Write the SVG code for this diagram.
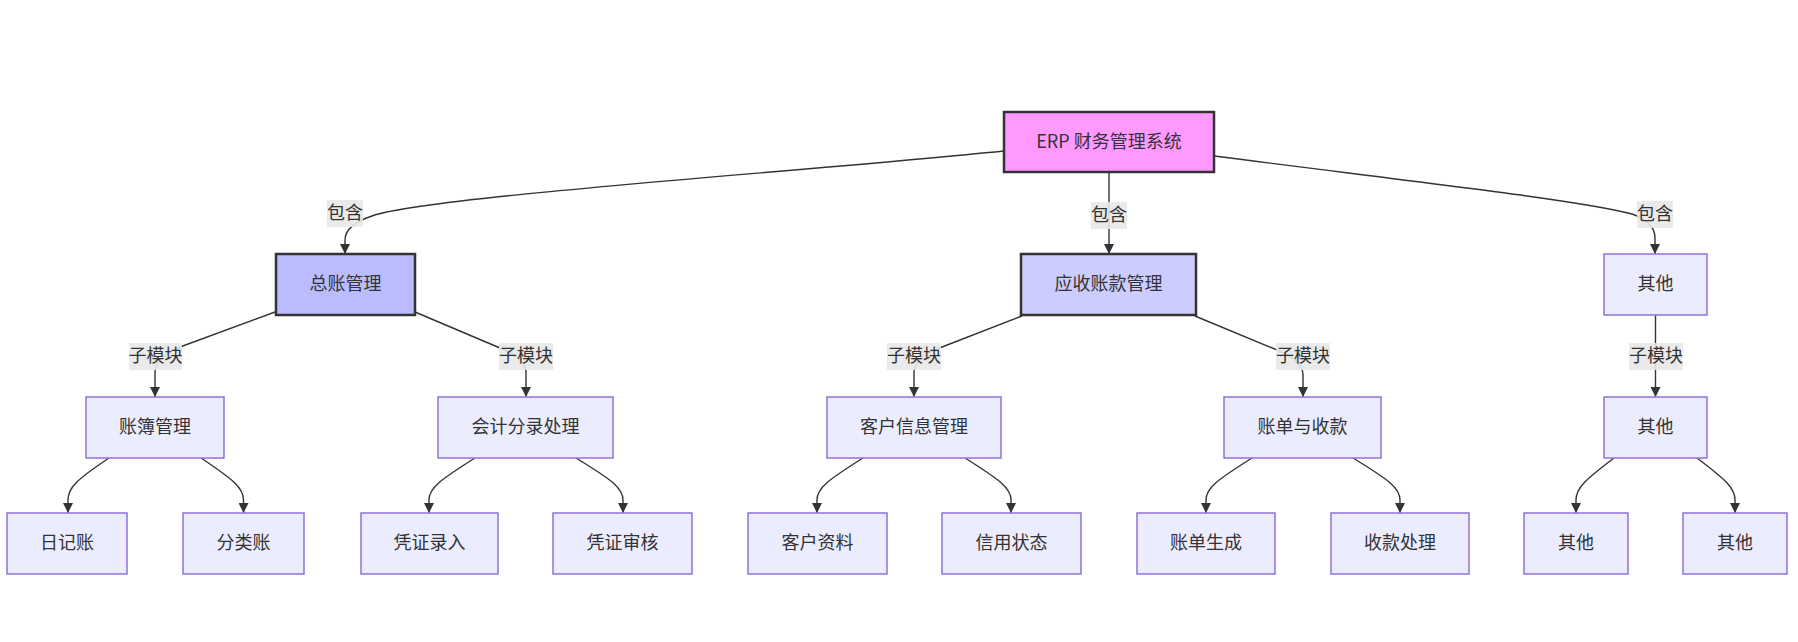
<svg xmlns="http://www.w3.org/2000/svg" width="1798" height="642" viewBox="0 0 1798 642">
<style>
  .bg{fill:#ffffff}
  .n rect{fill:#ECECFF;stroke:#9370DB;stroke-width:1.5}
  .n text, .lbl text{font-family:"Noto Sans CJK SC","Noto Sans",sans-serif;font-size:18px;fill:#333;text-anchor:middle;dominant-baseline:central}
  #root rect{fill:#ff99ff;stroke:#333;stroke-width:2.5}
  #gl rect{fill:#bbbbff;stroke:#333;stroke-width:2.5}
  #ar rect{fill:#ccccff;stroke:#333;stroke-width:2.5}
  .e{fill:none;stroke:#333;stroke-width:1.4;marker-end:url(#arr)}
  .lbl rect{fill:#e8e8e8;opacity:0.9}
</style>
<defs>
  <marker id="arr" viewBox="0 0 10 10" refX="10" refY="5" markerUnits="userSpaceOnUse" markerWidth="10" markerHeight="10" orient="auto">
    <path d="M0,0 L10,5 L0,10 z" fill="#333"/>
  </marker>
</defs>
<rect class="bg" x="0" y="0" width="1798" height="642"/>

<g id="connectors">
  <path class="e" d="M1004,151 C800,172 430,196 372,216 Q345,225 345,240 L345,254"/>
  <path class="e" d="M1109,172 L1109,254"/>
  <path class="e" d="M1214,156 C1400,180 1580,200 1632,214 Q1655,222 1655,238 L1655,254"/>
  <path class="e" d="M275,312 L180,347 Q156,357 155,372 L155,397"/>
  <path class="e" d="M415,312 L500,348 Q525,358 526,372 L526,397"/>
  <path class="e" d="M1022,316 L942,347 Q915,357 914,372 L914,397"/>
  <path class="e" d="M1195,316 L1277,350 Q1302,360 1303,374 L1303,397"/>
  <path class="e" d="M1655.5,315 L1655.5,397"/>
  <path class="e" d="M109,458 C76,480 68,488 68,500 L68,513"/>
  <path class="e" d="M201,458 C234,480 243.5,488 243.5,500 L243.5,513"/>
  <path class="e" d="M475,458 C440,480 429,488 429,500 L429,513"/>
  <path class="e" d="M576,458 C612,480 623,488 623,500 L623,513"/>
  <path class="e" d="M863,458 C828,480 817,488 817,500 L817,513"/>
  <path class="e" d="M965,458 C1000,480 1011,488 1011,500 L1011,513"/>
  <path class="e" d="M1252,458 C1217,480 1206,488 1206,500 L1206,513"/>
  <path class="e" d="M1353,458 C1389,480 1400,488 1400,500 L1400,513"/>
  <path class="e" d="M1614,458 C1585,480 1576,488 1576,500 L1576,513"/>
  <path class="e" d="M1697,458 C1726,480 1735,488 1735,500 L1735,513"/>
</g>

<g id="edge-labels">
  <g class="lbl"><rect x="327" y="200" width="36" height="27"/><text x="345" y="211">包含</text></g>
  <g class="lbl"><rect x="1091" y="202" width="36" height="27"/><text x="1109" y="213">包含</text></g>
  <g class="lbl"><rect x="1637" y="201" width="36" height="27"/><text x="1655" y="212">包含</text></g>
  <g class="lbl"><rect x="129" y="343" width="53" height="27"/><text x="155.5" y="354">子模块</text></g>
  <g class="lbl"><rect x="499" y="343" width="54" height="27"/><text x="526" y="354">子模块</text></g>
  <g class="lbl"><rect x="887" y="343" width="54" height="27"/><text x="914" y="354">子模块</text></g>
  <g class="lbl"><rect x="1276" y="343" width="54" height="27"/><text x="1303" y="354">子模块</text></g>
  <g class="lbl"><rect x="1629" y="343" width="54" height="27"/><text x="1656" y="354">子模块</text></g>
</g>

<g id="root" class="n"><rect x="1004" y="112" width="210" height="60"/><text x="1109" y="139.5">ERP 财务管理系统</text></g>
<g id="gl" class="n"><rect x="276" y="254" width="139" height="61"/><text x="345.5" y="282">总账管理</text></g>
<g id="ar" class="n"><rect x="1021" y="254" width="175" height="61"/><text x="1108.5" y="282">应收账款管理</text></g>
<g id="other" class="n"><rect x="1604" y="254" width="103" height="61"/><text x="1655.5" y="282">其他</text></g>

<g id="ledger" class="n"><rect x="86" y="397" width="138" height="61"/><text x="155" y="425">账簿管理</text></g>
<g id="entry" class="n"><rect x="438" y="397" width="175" height="61"/><text x="525.5" y="425">会计分录处理</text></g>
<g id="cust" class="n"><rect x="827" y="397" width="174" height="61"/><text x="914" y="425">客户信息管理</text></g>
<g id="bill" class="n"><rect x="1224" y="397" width="157" height="61"/><text x="1302.5" y="425">账单与收款</text></g>
<g id="other2" class="n"><rect x="1604" y="397" width="103" height="61"/><text x="1655.5" y="425">其他</text></g>

<g id="journal" class="n"><rect x="7" y="513" width="120" height="61"/><text x="67" y="541">日记账</text></g>
<g id="general" class="n"><rect x="183" y="513" width="121" height="61"/><text x="243.5" y="541">分类账</text></g>
<g id="vin" class="n"><rect x="361" y="513" width="137" height="61"/><text x="429.5" y="541">凭证录入</text></g>
<g id="vaudit" class="n"><rect x="553" y="513" width="139" height="61"/><text x="622.5" y="541">凭证审核</text></g>
<g id="cdata" class="n"><rect x="748" y="513" width="139" height="61"/><text x="817.5" y="541">客户资料</text></g>
<g id="credit" class="n"><rect x="942" y="513" width="139" height="61"/><text x="1011.5" y="541">信用状态</text></g>
<g id="bgen" class="n"><rect x="1137" y="513" width="138" height="61"/><text x="1206" y="541">账单生成</text></g>
<g id="pay" class="n"><rect x="1331" y="513" width="138" height="61"/><text x="1400" y="541">收款处理</text></g>
<g id="other3" class="n"><rect x="1524" y="513" width="104" height="61"/><text x="1576" y="541">其他</text></g>
<g id="other4" class="n"><rect x="1683" y="513" width="104" height="61"/><text x="1735" y="541">其他</text></g>
</svg>
